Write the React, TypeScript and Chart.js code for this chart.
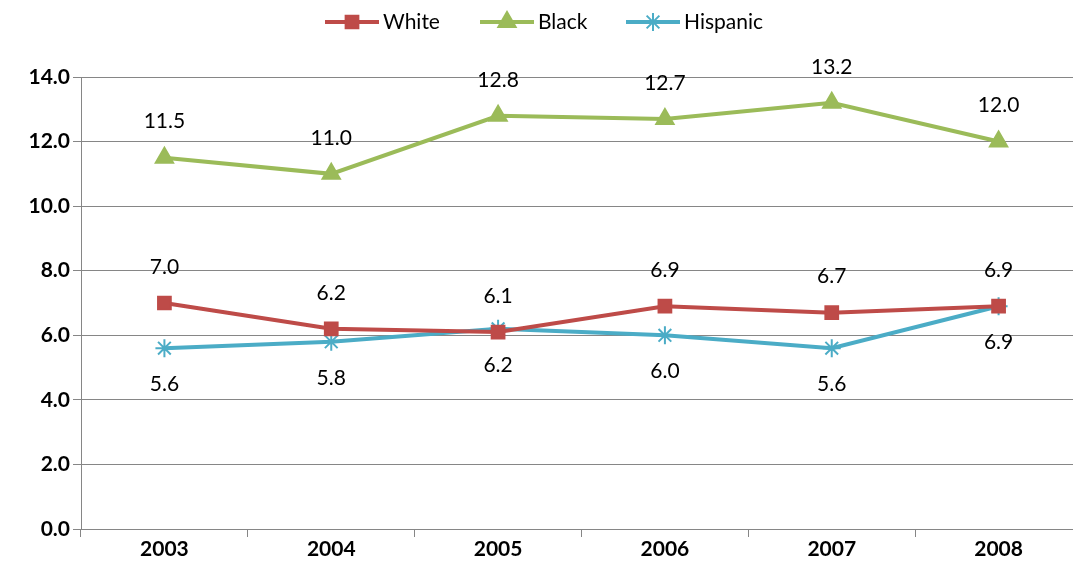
import React, { useEffect, useRef } from 'react';
import { Chart, registerables } from 'chart.js';
import { drawPoint } from 'chart.js/helpers';

Chart.register(...registerables);

const years = ['2003', '2004', '2005', '2006', '2007', '2008'];
const white = [7.0, 6.2, 6.1, 6.9, 6.7, 6.9];
const black = [11.5, 11.0, 12.8, 12.7, 13.2, 12.0];
const hispanic = [5.6, 5.8, 6.2, 6.0, 5.6, 6.9];

const FONT = 'Lato, "Open Sans", sans-serif';

const labelsPlugin = {
  id: 'valueLabels',
  afterDatasetsDraw(chart: any) {
    const ctx = chart.ctx;
    ctx.save();
    ctx.font = `21px ${FONT}`;
    ctx.fillStyle = '#000';
    ctx.textAlign = 'center';
    ctx.textBaseline = 'middle';
    chart.data.datasets.forEach((ds: any, i: number) => {
      const below = i === 2;
      chart.getDatasetMeta(i).data.forEach((pt: any, j: number) => {
        ctx.fillText(ds.data[j].toFixed(1), pt.x, pt.y + (below ? 36 : -36));
      });
    });
    // legend
    const xs = [325, 480, 626];
    chart.data.datasets.forEach((ds: any, i: number) => {
      const x = xs[i], y = 22;
      ctx.strokeStyle = ds.borderColor;
      ctx.lineWidth = 4;
      ctx.beginPath();
      ctx.moveTo(x, y);
      ctx.lineTo(x + 54, y);
      ctx.stroke();
      ctx.fillStyle = ds.borderColor;
      ctx.lineWidth = 2;
      drawPoint(ctx, { pointStyle: ds.pointStyle, radius: ds.pointRadius, rotation: 0, borderWidth: 2 }, x + 27, y);
      ctx.fillStyle = '#000';
      ctx.textAlign = 'left';
      ctx.fillText(ds.label, x + 58, y);
    });
    ctx.restore();
  },
};

export default function App() {
  const ref = useRef<HTMLCanvasElement>(null);
  useEffect(() => {
    document.body.style.margin = '0';
    if (!ref.current) return;
    const mk = (label: string, data: number[], color: string, style: string, r: number) => ({
      label,
      data,
      borderColor: color,
      backgroundColor: color,
      pointBackgroundColor: color,
      pointBorderColor: color,
      pointStyle: style,
      pointRadius: r,
      pointBorderWidth: 2,
      borderWidth: 4,
      tension: 0,
    });
    const chart = new Chart(ref.current, {
      type: 'line',
      data: {
        labels: years,
        datasets: [
          mk('White', white, '#BE4B48', 'rect', 9),
          mk('Black', black, '#9BBB59', 'triangle', 10),
          mk('Hispanic', hispanic, '#4BACC6', 'star', 9),
        ],
      },
      options: {
        animation: false,
        responsive: false,
        layout: { padding: { top: 77, left: 0, right: 0, bottom: 0 } },
        plugins: { legend: { display: false }, tooltip: { enabled: false } },
        scales: {
          x: {
            offset: true,
            afterFit: (s: any) => { s.height = 53; },
            grid: { offset: true, drawOnChartArea: false, color: '#868686', tickLength: 8 },
            border: { color: '#868686' },
            ticks: { color: '#000', font: { family: FONT, size: 21, weight: 'bold' }, padding: 0 },
          },
          y: {
            min: 0,
            max: 14,
            afterFit: (s: any) => { s.width = 81; },
            ticks: {
              stepSize: 2,
              color: '#000',
              font: { family: FONT, size: 21, weight: 'bold' },
              callback: (v: any) => Number(v).toFixed(1),
            },
            grid: { color: '#868686', tickLength: 8 },
            border: { color: '#868686' },
          },
        },
      },
      plugins: [labelsPlugin],
    });
    return () => chart.destroy();
  }, []);
  return (
    <div style={{ width: 1073, height: 582, overflow: 'hidden' }}>
      <canvas ref={ref} width={1084 + 1 * 0 + 10} height={582} />
    </div>
  );
}
